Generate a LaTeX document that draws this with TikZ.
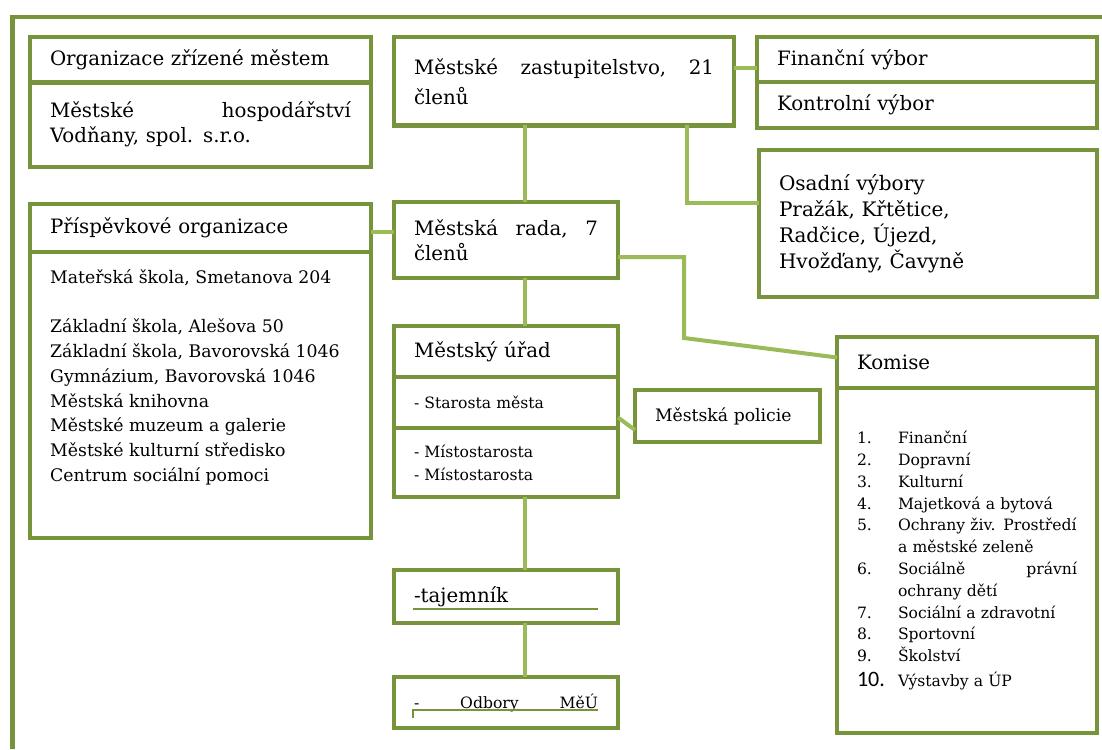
\documentclass[tikz,border=0pt]{standalone}
\usepackage{fontspec}
\setmainfont{DejaVu Serif}
\newfontfamily\numfont{Carlito}
\usetikzlibrary{positioning}
\definecolor{boxgreen}{HTML}{77933C}
\definecolor{linkgreen}{HTML}{9BBB59}
\newcommand{\hdrfont}{\fontsize{19.8}{25}\selectfont}
\newcommand{\zastfont}{\fontsize{19.8}{30}\selectfont}
\newcommand{\osafont}{\fontsize{20}{26}\selectfont}
\newcommand{\listfont}{\fontsize{17.3}{24.8}\selectfont}
\newcommand{\komfont}{\fontsize{15.6}{21.8}\selectfont}
\newcommand{\urfont}{\fontsize{15.6}{23}\selectfont}
\newcommand{\polfont}{\fontsize{17.2}{23}\selectfont}

\begin{document}
\begin{tikzpicture}[x=1pt,y=-1pt,
    cell/.style={draw=boxgreen, line width=4.5pt, fill=white, anchor=north west,
                 inner xsep=20pt, inner ysep=0pt, outer sep=0pt, align=left, font=\hdrfont},
    link/.style={draw=linkgreen, line width=4pt},
    frame/.style={draw=boxgreen, line width=4.5pt}]
  \fill[white] (0,0) rectangle (1102,749);
  \useasboundingbox (0,0) rectangle (1102,749);
  \draw[frame] (12.5,749) -- (12.5,17) -- (1102,17);

  % left column
  \node[cell, minimum width=341, text width=301, minimum height=45.5] (orgHead) at (30,37) {Organizace zřízené městem};
  \node[cell, minimum width=341, text width=301, minimum height=84.5] (orgBody) [below=0pt of orgHead]
       {Městské\hfill hospodářství\\Vodňany, spol. s.r.o.};
  \node[cell, minimum width=341, text width=301, minimum height=48] (prispHead) at (30,204) {Příspěvkové organizace};
  \node[cell, minimum width=341, text width=301, minimum height=286] (prispBody) [below=0pt of prispHead] {};
  \node[anchor=north west, inner sep=0pt, align=left, font=\listfont] (prispList)
       at ([shift={(20,17)}]prispBody.north west)
       {Mateřská škola, Smetanova 204\\ \\Základní škola, Alešova 50\\Základní škola, Bavorovská 1046\\
        Gymnázium, Bavorovská 1046\\Městská knihovna\\Městské muzeum a galerie\\
        Městské kulturní středisko\\Centrum sociální pomoci};

  % middle column
  \node[cell, minimum width=340, text width=300, minimum height=88.5, font=\zastfont] (zast) at (394,37)
       {Městské\hfill zastupitelstvo,\hfill 21\\členů};
  \node[cell, minimum width=224, text width=184, minimum height=76] (rada) at (394,202)
       {Městská\hfill rada,\hfill 7\\členů};
  \node[cell, minimum width=224, text width=184, minimum height=51] (uradHead) at (394,326) {Městský úřad};
  \node[cell, minimum width=224, text width=184, minimum height=51, font=\urfont] (starosta) [below=0pt of uradHead] {- Starosta města};
  \node[cell, minimum width=224, text width=184, minimum height=69, font=\urfont] (mistost) [below=0pt of starosta]
       {- Místostarosta\\- Místostarosta};
  \node[cell, minimum width=185, text width=145, minimum height=52, font=\polfont] (policie) at (635,390) {Městská policie};
  \node[cell, minimum width=224, text width=184, minimum height=53] (tajemnik) at (394,570) {-tajemník};
  \node[cell, minimum width=224, text width=184, minimum height=51, font=\urfont] (odbory) at (394,677)
       {-\hfill Odbory\hfill MěÚ};

  % right column
  \node[cell, minimum width=340, text width=300, minimum height=45] (fin) at (757,37) {Finanční výbor};
  \node[cell, minimum width=340, text width=300, minimum height=46] (kontrol) [below=0pt of fin] {Kontrolní výbor};
  \node[cell, minimum width=338, text width=298, minimum height=147, font=\osafont] (osadni) at (759,150)
       {Osadní výbory\\Pražák, Křtětice,\\Radčice, Újezd,\\Hvožďany, Čavyně};
  \node[cell, minimum width=260, text width=220, minimum height=51] (komHead) at (837,337) {Komise};
  \node[cell, minimum width=260, text width=220, minimum height=345, font=\komfont] (komBody) [below=0pt of komHead]
       {\makebox[41pt][l]{1.}Finanční\\
        \makebox[41pt][l]{2.}Dopravní\\
        \makebox[41pt][l]{3.}Kulturní\\
        \makebox[41pt][l]{4.}Majetková a bytová\\
        \makebox[41pt][l]{5.}Ochrany živ. Prostředí\\
        \hspace*{41pt}a městské zeleně\\
        \makebox[41pt][l]{6.}Sociálně\hfill právní\\
        \hspace*{41pt}ochrany dětí\\
        \makebox[41pt][l]{7.}Sociální a zdravotní\\
        \makebox[41pt][l]{8.}Sportovní\\
        \makebox[41pt][l]{9.}Školství\\[3pt]
        \makebox[41pt][l]{\numfont\fontsize{22}{22}\selectfont 10.}Výstavby a ÚP};

  % underlines
  \draw[boxgreen, line width=2pt] ([xshift=19pt,yshift=14pt]tajemnik.south west) -- ([xshift=-20pt,yshift=14pt]tajemnik.south east);
  \draw[boxgreen, line width=2pt] ([xshift=19pt,yshift=10pt]odbory.south west) |- ([xshift=-20pt,yshift=18pt]odbory.south east);

  % connectors
  \coordinate (spine) at (525,0);
  \coordinate (zastDrop) at (687,0);
  \coordinate (radaBend) at (684,338);
  \draw[link] (spine |- zast.south) -- (spine |- rada.north);
  \draw[link] (spine |- rada.south) -- (spine |- uradHead.north);
  \draw[link] (spine |- mistost.south) -- (spine |- tajemnik.north);
  \draw[link] (spine |- tajemnik.south) -- (spine |- odbory.north);
  \draw[link] ([yshift=13pt]zast.east) -- ([yshift=13pt]zast.east -| fin.west);
  \draw[link] (zastDrop |- zast.south) |- ([yshift=21pt]osadni.west);
  \draw[link] ([yshift=-4pt]prispHead.east) -- ([yshift=-4pt]prispHead.east -| rada.west);
  \draw[link] ([yshift=-17pt]rada.east) -| (radaBend) -- ([yshift=5pt]komHead.west);
  \draw[link] ([yshift=-15pt]starosta.east) -- ([yshift=-14pt]policie.west);
\end{tikzpicture}
\end{document}
